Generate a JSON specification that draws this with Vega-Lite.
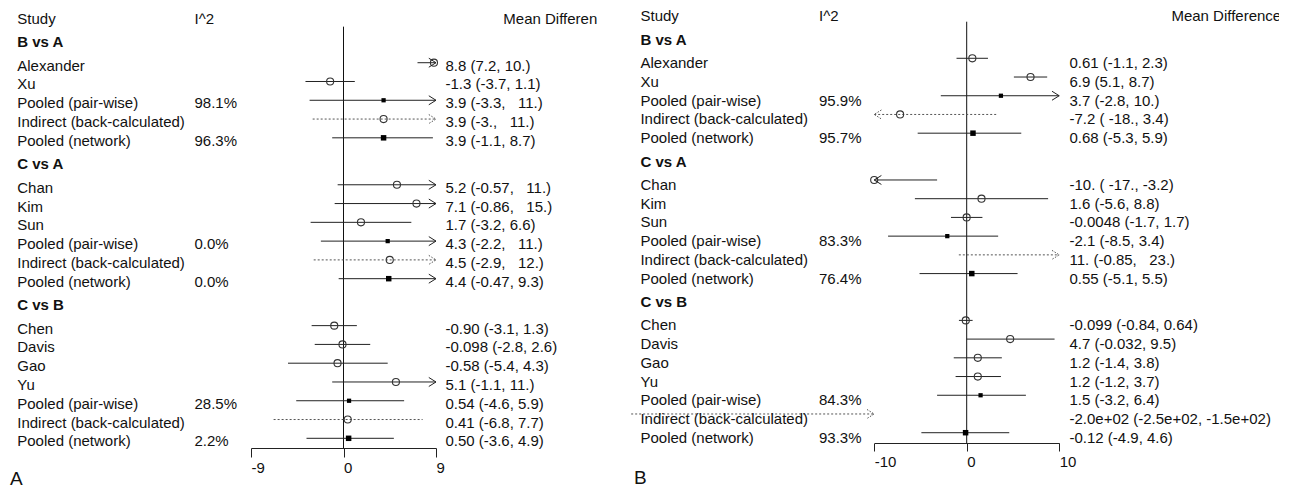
{
  "$schema": "https://vega.github.io/schema/vega-lite/v6.json",
  "background": "white",
  "padding": 0,
  "config": {
    "view": {"stroke": null},
    "font": "Liberation Sans",
    "axis": {
      "grid": false, "title": null,
      "domainColor": "#222", "tickColor": "#222", "domainWidth": 1, "tickWidth": 1,
      "labelColor": "#111", "labelFont": "Liberation Sans", "labelFontSize": 15,
      "labelAlign": "left", "labelBaseline": "top", "labelFlush": false, "labelOverlap": false,
      "labelExpr": "'' + datum.value"
    },
    "title": {"font": "Liberation Sans", "fontSize": 19, "fontWeight": "normal", "color": "#111", "orient": "bottom", "anchor": "start", "frame": "group"},
    "text": {"font": "Liberation Sans", "fontSize": 15, "color": "#111", "align": "left", "baseline": "alphabetic"}
  },
  "data": {
    "values": [
      {"panel": "A", "kind": "header", "line": 0, "name": "Study", "i2": "I^2", "label": "Mean Difference"},
      {"panel": "A", "kind": "group", "line": 1.25, "name": "B vs A"},
      {"panel": "A", "kind": "study", "line": 2.5, "name": "Alexander", "est": 8.8, "lo": 7.2, "hi": 10, "label": "8.8 (7.2, 10.)"},
      {"panel": "A", "kind": "study", "line": 3.5, "name": "Xu", "est": -1.3, "lo": -3.7, "hi": 1.1, "label": "-1.3 (-3.7, 1.1)"},
      {"panel": "A", "kind": "pairwise", "line": 4.5, "name": "Pooled (pair-wise)", "i2": "98.1%", "est": 3.9, "lo": -3.3, "hi": 11, "label": "3.9 (-3.3,\u00a0\u00a0\u00a011.)"},
      {"panel": "A", "kind": "indirect", "line": 5.5, "name": "Indirect (back-calculated)", "est": 3.9, "lo": -3.0, "hi": 11, "label": "3.9 (-3.,\u00a0\u00a0\u00a011.)"},
      {"panel": "A", "kind": "network", "line": 6.5, "name": "Pooled (network)", "i2": "96.3%", "est": 3.9, "lo": -1.1, "hi": 8.7, "label": "3.9 (-1.1, 8.7)"},
      {"panel": "A", "kind": "group", "line": 7.75, "name": "C vs A"},
      {"panel": "A", "kind": "study", "line": 9, "name": "Chan", "est": 5.2, "lo": -0.57, "hi": 11, "label": "5.2 (-0.57,\u00a0\u00a0\u00a011.)"},
      {"panel": "A", "kind": "study", "line": 10, "name": "Kim", "est": 7.1, "lo": -0.86, "hi": 15, "label": "7.1 (-0.86,\u00a0\u00a0\u00a015.)"},
      {"panel": "A", "kind": "study", "line": 11, "name": "Sun", "est": 1.7, "lo": -3.2, "hi": 6.6, "label": "1.7 (-3.2, 6.6)"},
      {"panel": "A", "kind": "pairwise", "line": 12, "name": "Pooled (pair-wise)", "i2": "0.0%", "est": 4.3, "lo": -2.2, "hi": 11, "label": "4.3 (-2.2,\u00a0\u00a0\u00a011.)"},
      {"panel": "A", "kind": "indirect", "line": 13, "name": "Indirect (back-calculated)", "est": 4.5, "lo": -2.9, "hi": 12, "label": "4.5 (-2.9,\u00a0\u00a0\u00a012.)"},
      {"panel": "A", "kind": "network", "line": 14, "name": "Pooled (network)", "i2": "0.0%", "est": 4.4, "lo": -0.47, "hi": 9.3, "label": "4.4 (-0.47, 9.3)"},
      {"panel": "A", "kind": "group", "line": 15.25, "name": "C vs B"},
      {"panel": "A", "kind": "study", "line": 16.5, "name": "Chen", "est": -0.90, "lo": -3.1, "hi": 1.3, "label": "-0.90 (-3.1, 1.3)"},
      {"panel": "A", "kind": "study", "line": 17.5, "name": "Davis", "est": -0.098, "lo": -2.8, "hi": 2.6, "label": "-0.098 (-2.8, 2.6)"},
      {"panel": "A", "kind": "study", "line": 18.5, "name": "Gao", "est": -0.58, "lo": -5.4, "hi": 4.3, "label": "-0.58 (-5.4, 4.3)"},
      {"panel": "A", "kind": "study", "line": 19.5, "name": "Yu", "est": 5.1, "lo": -1.1, "hi": 11, "label": "5.1 (-1.1, 11.)"},
      {"panel": "A", "kind": "pairwise", "line": 20.5, "name": "Pooled (pair-wise)", "i2": "28.5%", "est": 0.54, "lo": -4.6, "hi": 5.9, "label": "0.54 (-4.6, 5.9)"},
      {"panel": "A", "kind": "indirect", "line": 21.5, "name": "Indirect (back-calculated)", "est": 0.41, "lo": -6.8, "hi": 7.7, "label": "0.41 (-6.8, 7.7)"},
      {"panel": "A", "kind": "network", "line": 22.5, "name": "Pooled (network)", "i2": "2.2%", "est": 0.50, "lo": -3.6, "hi": 4.9, "label": "0.50 (-3.6, 4.9)"},

      {"panel": "B", "kind": "header", "line": 0, "name": "Study", "i2": "I^2", "label": "Mean Difference"},
      {"panel": "B", "kind": "group", "line": 1.25, "name": "B vs A"},
      {"panel": "B", "kind": "study", "line": 2.5, "name": "Alexander", "est": 0.61, "lo": -1.1, "hi": 2.3, "label": "0.61 (-1.1, 2.3)"},
      {"panel": "B", "kind": "study", "line": 3.5, "name": "Xu", "est": 6.9, "lo": 5.1, "hi": 8.7, "label": "6.9 (5.1, 8.7)"},
      {"panel": "B", "kind": "pairwise", "line": 4.5, "name": "Pooled (pair-wise)", "i2": "95.9%", "est": 3.7, "lo": -2.8, "hi": 10, "label": "3.7 (-2.8, 10.)"},
      {"panel": "B", "kind": "indirect", "line": 5.5, "name": "Indirect (back-calculated)", "est": -7.2, "lo": -18, "hi": 3.4, "label": "-7.2 (\u00a0-18., 3.4)"},
      {"panel": "B", "kind": "network", "line": 6.5, "name": "Pooled (network)", "i2": "95.7%", "est": 0.68, "lo": -5.3, "hi": 5.9, "label": "0.68 (-5.3, 5.9)"},
      {"panel": "B", "kind": "group", "line": 7.75, "name": "C vs A"},
      {"panel": "B", "kind": "study", "line": 9, "name": "Chan", "est": -10, "lo": -17, "hi": -3.2, "label": "-10. (\u00a0-17., -3.2)"},
      {"panel": "B", "kind": "study", "line": 10, "name": "Kim", "est": 1.6, "lo": -5.6, "hi": 8.8, "label": "1.6 (-5.6, 8.8)"},
      {"panel": "B", "kind": "study", "line": 11, "name": "Sun", "est": -0.0048, "lo": -1.7, "hi": 1.7, "label": "-0.0048 (-1.7, 1.7)"},
      {"panel": "B", "kind": "pairwise", "line": 12, "name": "Pooled (pair-wise)", "i2": "83.3%", "est": -2.1, "lo": -8.5, "hi": 3.4, "label": "-2.1 (-8.5, 3.4)"},
      {"panel": "B", "kind": "indirect", "line": 13, "name": "Indirect (back-calculated)", "est": 11, "lo": -0.85, "hi": 23, "label": "\u00a0\u00a011. (-0.85,\u00a0\u00a0\u00a023.)"},
      {"panel": "B", "kind": "network", "line": 14, "name": "Pooled (network)", "i2": "76.4%", "est": 0.55, "lo": -5.1, "hi": 5.5, "label": "0.55 (-5.1, 5.5)"},
      {"panel": "B", "kind": "group", "line": 15.25, "name": "C vs B"},
      {"panel": "B", "kind": "study", "line": 16.5, "name": "Chen", "est": -0.099, "lo": -0.84, "hi": 0.64, "label": "-0.099 (-0.84, 0.64)"},
      {"panel": "B", "kind": "study", "line": 17.5, "name": "Davis", "est": 4.7, "lo": -0.032, "hi": 9.5, "label": "4.7 (-0.032, 9.5)"},
      {"panel": "B", "kind": "study", "line": 18.5, "name": "Gao", "est": 1.2, "lo": -1.4, "hi": 3.8, "label": "1.2 (-1.4, 3.8)"},
      {"panel": "B", "kind": "study", "line": 19.5, "name": "Yu", "est": 1.2, "lo": -1.2, "hi": 3.7, "label": "1.2 (-1.2, 3.7)"},
      {"panel": "B", "kind": "pairwise", "line": 20.5, "name": "Pooled (pair-wise)", "i2": "84.3%", "est": 1.5, "lo": -3.2, "hi": 6.4, "label": "1.5 (-3.2, 6.4)"},
      {"panel": "B", "kind": "indirect", "line": 21.5, "name": "Indirect (back-calculated)", "est": -200, "lo": -250, "hi": -150, "label": "-2.0e+02 (-2.5e+02, -1.5e+02)"},
      {"panel": "B", "kind": "network", "line": 22.5, "name": "Pooled (network)", "i2": "93.3%", "est": -0.12, "lo": -4.9, "hi": 4.6, "label": "-0.12 (-4.9, 4.6)"}
    ]
  },
  "bounds": "flush",
  "spacing": 33,
  "hconcat": [
    {
      "title": {"text": "A", "offset": -5, "dx": 10},
      "width": 597,
      "height": 448,
      "transform": [{"filter": "datum.panel === 'A'"}],
      "encoding": {
        "y": {"field": "line", "type": "quantitative", "scale": {"domain": [-0.839, 23.016], "reverse": true, "nice": false, "zero": false}, "axis": null}
      },
      "resolve": {"scale": {"x": "independent"}, "axis": {"x": "independent"}},
      "layer": [
        {
          "layer": [
            {
              "transform": [{"filter": "datum.kind === 'header'"}],
              "mark": {"type": "rule", "color": "#111", "strokeWidth": 1},
              "encoding": {
                "x": {"datum": 0, "type": "quantitative", "scale": {"domain": [-9, 9], "range": [251, 436], "clamp": true, "nice": false, "zero": false}, "axis": {"values": [-9, 0, 9], "tickSize": 9, "labelPadding": 3}},
                "y": {"datum": 0.58, "type": "quantitative"},
                "y2": {"datum": 23.016}
              }
            },
            {
              "transform": [{"filter": "datum.kind === 'study' || datum.kind === 'pairwise' || datum.kind === 'network'"}],
              "mark": {"type": "rule", "color": "#222", "strokeWidth": 1},
              "encoding": {
                "x": {"field": "lo", "type": "quantitative", "scale": {"domain": [-9, 9], "range": [251, 436], "clamp": true, "nice": false, "zero": false}, "axis": {"values": [-9, 0, 9], "tickSize": 9, "labelPadding": 3}},
                "x2": {"field": "hi"}
              }
            },
            {
              "transform": [{"filter": "datum.kind === 'indirect'"}],
              "mark": {"type": "rule", "color": "#555", "strokeWidth": 1, "strokeDash": [2, 2]},
              "encoding": {
                "x": {"field": "lo", "type": "quantitative", "scale": {"domain": [-9, 9], "range": [251, 436], "clamp": true, "nice": false, "zero": false}, "axis": {"values": [-9, 0, 9], "tickSize": 9, "labelPadding": 3}},
                "x2": {"field": "hi"}
              }
            },
            {
              "transform": [{"filter": "(datum.kind === 'study' || datum.kind === 'indirect') && datum.est >= -9 && datum.est <= 9"}],
              "mark": {"type": "point", "shape": "circle", "filled": false, "size": 50, "strokeWidth": 1.1, "color": "#333", "opacity": 1},
              "encoding": {
                "x": {"field": "est", "type": "quantitative", "scale": {"domain": [-9, 9], "range": [251, 436], "clamp": true, "nice": false, "zero": false}, "axis": {"values": [-9, 0, 9], "tickSize": 9, "labelPadding": 3}}
              }
            },
            {
              "transform": [{"filter": "datum.kind === 'pairwise' && datum.est >= -9 && datum.est <= 9"}],
              "mark": {"type": "point", "shape": "square", "filled": true, "size": 18, "color": "#000", "opacity": 1},
              "encoding": {
                "x": {"field": "est", "type": "quantitative", "scale": {"domain": [-9, 9], "range": [251, 436], "clamp": true, "nice": false, "zero": false}, "axis": {"values": [-9, 0, 9], "tickSize": 9, "labelPadding": 3}}
              }
            },
            {
              "transform": [{"filter": "datum.kind === 'network' && datum.est >= -9 && datum.est <= 9"}],
              "mark": {"type": "point", "shape": "square", "filled": true, "size": 30, "color": "#000", "opacity": 1},
              "encoding": {
                "x": {"field": "est", "type": "quantitative", "scale": {"domain": [-9, 9], "range": [251, 436], "clamp": true, "nice": false, "zero": false}, "axis": {"values": [-9, 0, 9], "tickSize": 9, "labelPadding": 3}}
              }
            },
            {
              "transform": [{"filter": "(datum.kind === 'study' || datum.kind === 'pairwise' || datum.kind === 'network') && datum.hi >= 9"}],
              "mark": {"type": "point", "shape": "M-1.6,-1L0,0L-1.6,1", "filled": false, "size": 81, "strokeWidth": 1, "color": "#222", "opacity": 1},
              "encoding": {
                "x": {"field": "hi", "type": "quantitative", "scale": {"domain": [-9, 9], "range": [251, 436], "clamp": true, "nice": false, "zero": false}, "axis": {"values": [-9, 0, 9], "tickSize": 9, "labelPadding": 3}}
              }
            },
            {
              "transform": [{"filter": "(datum.kind === 'study' || datum.kind === 'pairwise' || datum.kind === 'network') && datum.lo <= -9 && datum.hi > -9"}],
              "mark": {"type": "point", "shape": "M1.6,-1L0,0L1.6,1", "filled": false, "size": 81, "strokeWidth": 1, "color": "#222", "opacity": 1},
              "encoding": {
                "x": {"field": "lo", "type": "quantitative", "scale": {"domain": [-9, 9], "range": [251, 436], "clamp": true, "nice": false, "zero": false}, "axis": {"values": [-9, 0, 9], "tickSize": 9, "labelPadding": 3}}
              }
            },
            {
              "transform": [{"filter": "datum.kind === 'indirect' && (datum.hi >= 9 || datum.hi <= -9)"}],
              "mark": {"type": "point", "shape": "M-1.6,-1L0,0L-1.6,1", "filled": false, "size": 81, "strokeWidth": 1, "strokeDash": [1.5, 1.5], "color": "#555", "opacity": 1},
              "encoding": {
                "x": {"field": "hi", "type": "quantitative", "scale": {"domain": [-9, 9], "range": [251, 436], "clamp": true, "nice": false, "zero": false}, "axis": {"values": [-9, 0, 9], "tickSize": 9, "labelPadding": 3}}
              }
            },
            {
              "transform": [{"filter": "datum.kind === 'indirect' && datum.lo <= -9 && datum.hi > -9"}],
              "mark": {"type": "point", "shape": "M1.6,-1L0,0L1.6,1", "filled": false, "size": 81, "strokeWidth": 1, "strokeDash": [1.5, 1.5], "color": "#555", "opacity": 1},
              "encoding": {
                "x": {"field": "lo", "type": "quantitative", "scale": {"domain": [-9, 9], "range": [251, 436], "clamp": true, "nice": false, "zero": false}, "axis": {"values": [-9, 0, 9], "tickSize": 9, "labelPadding": 3}}
              }
            }
          ]
        },
        {
          "layer": [
            {
              "transform": [{"filter": "datum.kind !== 'group'"}],
              "mark": {"type": "text", "dy": 8},
              "encoding": {
                "x": {"datum": -31.73, "type": "quantitative", "scale": {"domain": [-33.41, 24.66], "nice": false, "zero": false}, "axis": null},
                "text": {"field": "name"}
              }
            },
            {
              "transform": [{"filter": "datum.kind === 'group'"}],
              "mark": {"type": "text", "dy": 8, "fontWeight": "bold"},
              "encoding": {
                "x": {"datum": -31.73, "type": "quantitative", "scale": {"domain": [-33.41, 24.66], "nice": false, "zero": false}, "axis": null},
                "text": {"field": "name"}
              }
            },
            {
              "transform": [{"filter": "datum.i2 != null"}],
              "mark": {"type": "text", "dy": 8},
              "encoding": {
                "x": {"datum": -14.49, "type": "quantitative", "scale": {"domain": [-33.41, 24.66], "nice": false, "zero": false}, "axis": null},
                "text": {"field": "i2"}
              }
            },
            {
              "transform": [{"filter": "datum.kind === 'study' || datum.kind === 'pairwise' || datum.kind === 'indirect' || datum.kind === 'network'"}],
              "mark": {"type": "text", "dy": 8},
              "encoding": {
                "x": {"datum": 9.92, "type": "quantitative", "scale": {"domain": [-33.41, 24.66], "nice": false, "zero": false}, "axis": null},
                "text": {"field": "label"}
              }
            },
            {
              "transform": [{"filter": "datum.kind === 'header'"}],
              "mark": {"type": "text", "dy": 8, "clip": true},
              "encoding": {
                "x": {"datum": 15.55, "type": "quantitative", "scale": {"domain": [-33.41, 24.66], "nice": false, "zero": false}, "axis": null},
                "text": {"field": "label"}
              }
            }
          ]
        }
      ]
    },
    {
      "title": {"text": "B", "offset": 0, "dx": 4},
      "width": 649,
      "height": 443,
      "transform": [{"filter": "datum.panel === 'B'"}],
      "encoding": {
        "y": {"field": "line", "type": "quantitative", "scale": {"domain": [-0.614, 23.05], "reverse": true, "nice": false, "zero": false}, "axis": null}
      },
      "resolve": {"scale": {"x": "independent"}, "axis": {"x": "independent"}},
      "layer": [
        {
          "layer": [
            {
              "transform": [{"filter": "datum.kind === 'header'"}],
              "mark": {"type": "rule", "color": "#111", "strokeWidth": 1},
              "encoding": {
                "x": {"datum": 0, "type": "quantitative", "scale": {"domain": [-10, 10], "range": [244.2, 429.2], "clamp": true, "nice": false, "zero": false}, "axis": {"values": [-10, 0, 10], "tickSize": 8, "labelPadding": 3}},
                "y": {"datum": 0.545, "type": "quantitative"},
                "y2": {"datum": 23.05}
              }
            },
            {
              "transform": [{"filter": "datum.kind === 'study' || datum.kind === 'pairwise' || datum.kind === 'network'"}],
              "mark": {"type": "rule", "color": "#222", "strokeWidth": 1},
              "encoding": {
                "x": {"field": "lo", "type": "quantitative", "scale": {"domain": [-10, 10], "range": [244.2, 429.2], "clamp": true, "nice": false, "zero": false}, "axis": {"values": [-10, 0, 10], "tickSize": 8, "labelPadding": 3}},
                "x2": {"field": "hi"}
              }
            },
            {
              "transform": [{"filter": "datum.kind === 'indirect'"}],
              "mark": {"type": "rule", "color": "#555", "strokeWidth": 1, "strokeDash": [2, 2]},
              "encoding": {
                "x": {"field": "lo", "type": "quantitative", "scale": {"domain": [-10, 10], "range": [244.2, 429.2], "clamp": true, "nice": false, "zero": false}, "axis": {"values": [-10, 0, 10], "tickSize": 8, "labelPadding": 3}},
                "x2": {"field": "hi"}
              }
            },
            {
              "transform": [{"filter": "(datum.kind === 'study' || datum.kind === 'indirect') && datum.est >= -10 && datum.est <= 10"}],
              "mark": {"type": "point", "shape": "circle", "filled": false, "size": 50, "strokeWidth": 1.1, "color": "#333", "opacity": 1},
              "encoding": {
                "x": {"field": "est", "type": "quantitative", "scale": {"domain": [-10, 10], "range": [244.2, 429.2], "clamp": true, "nice": false, "zero": false}, "axis": {"values": [-10, 0, 10], "tickSize": 8, "labelPadding": 3}}
              }
            },
            {
              "transform": [{"filter": "datum.kind === 'pairwise' && datum.est >= -10 && datum.est <= 10"}],
              "mark": {"type": "point", "shape": "square", "filled": true, "size": 18, "color": "#000", "opacity": 1},
              "encoding": {
                "x": {"field": "est", "type": "quantitative", "scale": {"domain": [-10, 10], "range": [244.2, 429.2], "clamp": true, "nice": false, "zero": false}, "axis": {"values": [-10, 0, 10], "tickSize": 8, "labelPadding": 3}}
              }
            },
            {
              "transform": [{"filter": "datum.kind === 'network' && datum.est >= -10 && datum.est <= 10"}],
              "mark": {"type": "point", "shape": "square", "filled": true, "size": 30, "color": "#000", "opacity": 1},
              "encoding": {
                "x": {"field": "est", "type": "quantitative", "scale": {"domain": [-10, 10], "range": [244.2, 429.2], "clamp": true, "nice": false, "zero": false}, "axis": {"values": [-10, 0, 10], "tickSize": 8, "labelPadding": 3}}
              }
            },
            {
              "transform": [{"filter": "(datum.kind === 'study' || datum.kind === 'pairwise' || datum.kind === 'network') && datum.hi >= 10"}],
              "mark": {"type": "point", "shape": "M-1.6,-1L0,0L-1.6,1", "filled": false, "size": 81, "strokeWidth": 1, "color": "#222", "opacity": 1},
              "encoding": {
                "x": {"field": "hi", "type": "quantitative", "scale": {"domain": [-10, 10], "range": [244.2, 429.2], "clamp": true, "nice": false, "zero": false}, "axis": {"values": [-10, 0, 10], "tickSize": 8, "labelPadding": 3}}
              }
            },
            {
              "transform": [{"filter": "(datum.kind === 'study' || datum.kind === 'pairwise' || datum.kind === 'network') && datum.lo <= -10 && datum.hi > -10"}],
              "mark": {"type": "point", "shape": "M1.6,-1L0,0L1.6,1", "filled": false, "size": 81, "strokeWidth": 1, "color": "#222", "opacity": 1},
              "encoding": {
                "x": {"field": "lo", "type": "quantitative", "scale": {"domain": [-10, 10], "range": [244.2, 429.2], "clamp": true, "nice": false, "zero": false}, "axis": {"values": [-10, 0, 10], "tickSize": 8, "labelPadding": 3}}
              }
            },
            {
              "transform": [{"filter": "datum.kind === 'indirect' && (datum.hi >= 10 || datum.hi <= -10)"}],
              "mark": {"type": "point", "shape": "M-1.6,-1L0,0L-1.6,1", "filled": false, "size": 81, "strokeWidth": 1, "strokeDash": [1.5, 1.5], "color": "#555", "opacity": 1},
              "encoding": {
                "x": {"field": "hi", "type": "quantitative", "scale": {"domain": [-10, 10], "range": [244.2, 429.2], "clamp": true, "nice": false, "zero": false}, "axis": {"values": [-10, 0, 10], "tickSize": 8, "labelPadding": 3}}
              }
            },
            {
              "transform": [{"filter": "datum.kind === 'indirect' && datum.lo <= -10 && datum.hi > -10"}],
              "mark": {"type": "point", "shape": "M1.6,-1L0,0L1.6,1", "filled": false, "size": 81, "strokeWidth": 1, "strokeDash": [1.5, 1.5], "color": "#555", "opacity": 1},
              "encoding": {
                "x": {"field": "lo", "type": "quantitative", "scale": {"domain": [-10, 10], "range": [244.2, 429.2], "clamp": true, "nice": false, "zero": false}, "axis": {"values": [-10, 0, 10], "tickSize": 8, "labelPadding": 3}}
              }
            }
          ]
        },
        {
          "layer": [
            {
              "transform": [{"filter": "datum.kind === 'indirect' && datum.hi <= -10"}],
              "mark": {"type": "rule", "color": "#555", "strokeWidth": 1, "strokeDash": [2, 2], "clip": true},
              "encoding": {
                "x": {"field": "hi", "type": "quantitative", "scale": {"domain": [-36.4, 33.76], "nice": false, "zero": false}, "axis": null},
                "x2": {"datum": -10}
              }
            },
            {
              "transform": [{"filter": "datum.kind !== 'group'"}],
              "mark": {"type": "text", "dy": 10},
              "encoding": {
                "x": {"datum": -35.27, "type": "quantitative", "scale": {"domain": [-36.4, 33.76], "nice": false, "zero": false}, "axis": null},
                "text": {"field": "name"}
              }
            },
            {
              "transform": [{"filter": "datum.kind === 'group'"}],
              "mark": {"type": "text", "dy": 10, "fontWeight": "bold"},
              "encoding": {
                "x": {"datum": -35.27, "type": "quantitative", "scale": {"domain": [-36.4, 33.76], "nice": false, "zero": false}, "axis": null},
                "text": {"field": "name"}
              }
            },
            {
              "transform": [{"filter": "datum.i2 != null"}],
              "mark": {"type": "text", "dy": 10},
              "encoding": {
                "x": {"datum": -15.97, "type": "quantitative", "scale": {"domain": [-36.4, 33.76], "nice": false, "zero": false}, "axis": null},
                "text": {"field": "i2"}
              }
            },
            {
              "transform": [{"filter": "datum.kind === 'study' || datum.kind === 'pairwise' || datum.kind === 'indirect' || datum.kind === 'network'"}],
              "mark": {"type": "text", "dy": 10},
              "encoding": {
                "x": {"datum": 11.11, "type": "quantitative", "scale": {"domain": [-36.4, 33.76], "nice": false, "zero": false}, "axis": null},
                "text": {"field": "label"}
              }
            },
            {
              "transform": [{"filter": "datum.kind === 'header'"}],
              "mark": {"type": "text", "dy": 10, "clip": true},
              "encoding": {
                "x": {"datum": 22.13, "type": "quantitative", "scale": {"domain": [-36.4, 33.76], "nice": false, "zero": false}, "axis": null},
                "text": {"field": "label"}
              }
            }
          ]
        }
      ]
    }
  ]
}
